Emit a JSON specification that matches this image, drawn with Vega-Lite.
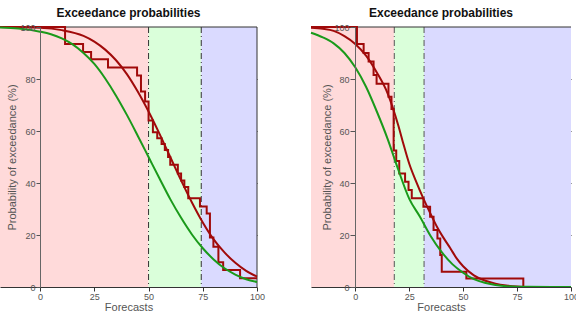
{
  "$schema": "https://vega.github.io/schema/vega-lite/v6.json",
  "padding": {"top": 7, "left": -4, "right": 0, "bottom": 0},
  "bounds": "flush",
  "spacing": 54,
  "config": {
    "view": {"stroke": null},
    "font": "Liberation Sans",
    "title": {"fontSize": 12, "fontWeight": "bold", "color": "#111", "offset": 3, "font": "Liberation Sans"},
    "axis": {"labelFont": "Liberation Sans", "labelFontSize": 9, "labelColor": "#555", "titleFont": "Liberation Sans", "titleFontSize": 11, "titleFontWeight": "normal", "titleColor": "#555", "grid": false, "tickColor": "#555", "domainColor": "#555", "zindex": 1, "minExtent": 0}
  },
  "datasets": {
    "zones": [
      {"panel": "A", "zone": "low", "x0": -18.5, "x1": 50},
      {"panel": "A", "zone": "mid", "x0": 50, "x1": 74.3},
      {"panel": "A", "zone": "high", "x0": 74.3, "x1": 100},
      {"panel": "B", "zone": "low", "x0": -20.5, "x1": 18.1},
      {"panel": "B", "zone": "mid", "x0": 18.1, "x1": 31.9},
      {"panel": "B", "zone": "high", "x0": 31.9, "x1": 100}
    ],
    "cuts": [
      {"panel": "A", "x": 50}, {"panel": "A", "x": 74.3},
      {"panel": "B", "x": 18.1}, {"panel": "B", "x": 31.9}
    ],
    "frame": [
      {"panel": "A", "x0": 0, "x1": 100, "y0": 100, "y1": 100},
      {"panel": "A", "x0": 100, "x1": 100, "y0": 0, "y1": 100},
      {"panel": "B", "x0": 0, "x1": 100, "y0": 100, "y1": 100}
    ],
    "curves": [
      {"panel": "A", "series": "empirical", "x": -18.5, "y": 100},
      {"panel": "A", "series": "empirical", "x": 11.5, "y": 93.5},
      {"panel": "A", "series": "empirical", "x": 19.8, "y": 90.4},
      {"panel": "A", "series": "empirical", "x": 23.5, "y": 87.6},
      {"panel": "A", "series": "empirical", "x": 31.3, "y": 84.4},
      {"panel": "A", "series": "empirical", "x": 44.7, "y": 81.3},
      {"panel": "A", "series": "empirical", "x": 46.5, "y": 75.2},
      {"panel": "A", "series": "empirical", "x": 48.4, "y": 71.3},
      {"panel": "A", "series": "empirical", "x": 50, "y": 64},
      {"panel": "A", "series": "empirical", "x": 52, "y": 59.5},
      {"panel": "A", "series": "empirical", "x": 54, "y": 57.2},
      {"panel": "A", "series": "empirical", "x": 56, "y": 55},
      {"panel": "A", "series": "empirical", "x": 57.5, "y": 52.7},
      {"panel": "A", "series": "empirical", "x": 59, "y": 50},
      {"panel": "A", "series": "empirical", "x": 60, "y": 47},
      {"panel": "A", "series": "empirical", "x": 63.5, "y": 43.7},
      {"panel": "A", "series": "empirical", "x": 65, "y": 41},
      {"panel": "A", "series": "empirical", "x": 66.5, "y": 38.5},
      {"panel": "A", "series": "empirical", "x": 68.3, "y": 34.1},
      {"panel": "A", "series": "empirical", "x": 73.7, "y": 31},
      {"panel": "A", "series": "empirical", "x": 76.8, "y": 28.3},
      {"panel": "A", "series": "empirical", "x": 78.3, "y": 19},
      {"panel": "A", "series": "empirical", "x": 79.9, "y": 15.5},
      {"panel": "A", "series": "empirical", "x": 82.2, "y": 9.5},
      {"panel": "A", "series": "empirical", "x": 84.4, "y": 6.5},
      {"panel": "A", "series": "empirical", "x": 92.2, "y": 3.4},
      {"panel": "A", "series": "empirical", "x": 100, "y": 3.4},
      {"panel": "A", "series": "fitted", "x": -18.5, "y": 100},
      {"panel": "A", "series": "fitted", "x": -10, "y": 99.9},
      {"panel": "A", "series": "fitted", "x": 0, "y": 99.7},
      {"panel": "A", "series": "fitted", "x": 10, "y": 98.8},
      {"panel": "A", "series": "fitted", "x": 20, "y": 96.6},
      {"panel": "A", "series": "fitted", "x": 25, "y": 94.4},
      {"panel": "A", "series": "fitted", "x": 30, "y": 91.3},
      {"panel": "A", "series": "fitted", "x": 35, "y": 87.2},
      {"panel": "A", "series": "fitted", "x": 40, "y": 81.9},
      {"panel": "A", "series": "fitted", "x": 45, "y": 75.2},
      {"panel": "A", "series": "fitted", "x": 50, "y": 67.5},
      {"panel": "A", "series": "fitted", "x": 55, "y": 59},
      {"panel": "A", "series": "fitted", "x": 60, "y": 50},
      {"panel": "A", "series": "fitted", "x": 65, "y": 41},
      {"panel": "A", "series": "fitted", "x": 70, "y": 32.5},
      {"panel": "A", "series": "fitted", "x": 75, "y": 24.8},
      {"panel": "A", "series": "fitted", "x": 80, "y": 18.3},
      {"panel": "A", "series": "fitted", "x": 85, "y": 13.3},
      {"panel": "A", "series": "fitted", "x": 90, "y": 9.3},
      {"panel": "A", "series": "fitted", "x": 95, "y": 6.2},
      {"panel": "A", "series": "fitted", "x": 100, "y": 4},
      {"panel": "A", "series": "reference", "x": -18.5, "y": 99.8},
      {"panel": "A", "series": "reference", "x": -10, "y": 99.4},
      {"panel": "A", "series": "reference", "x": 0, "y": 98.2},
      {"panel": "A", "series": "reference", "x": 5, "y": 97.2},
      {"panel": "A", "series": "reference", "x": 10, "y": 95.6},
      {"panel": "A", "series": "reference", "x": 15, "y": 93.3},
      {"panel": "A", "series": "reference", "x": 20, "y": 90},
      {"panel": "A", "series": "reference", "x": 25, "y": 85.8},
      {"panel": "A", "series": "reference", "x": 30, "y": 80.2},
      {"panel": "A", "series": "reference", "x": 35, "y": 73.6},
      {"panel": "A", "series": "reference", "x": 40, "y": 66.2},
      {"panel": "A", "series": "reference", "x": 45, "y": 58.2},
      {"panel": "A", "series": "reference", "x": 50, "y": 50},
      {"panel": "A", "series": "reference", "x": 55, "y": 41.8},
      {"panel": "A", "series": "reference", "x": 60, "y": 33.8},
      {"panel": "A", "series": "reference", "x": 65, "y": 26.6},
      {"panel": "A", "series": "reference", "x": 70, "y": 20.2},
      {"panel": "A", "series": "reference", "x": 75, "y": 14.9},
      {"panel": "A", "series": "reference", "x": 80, "y": 10.6},
      {"panel": "A", "series": "reference", "x": 85, "y": 7.2},
      {"panel": "A", "series": "reference", "x": 90, "y": 4.8},
      {"panel": "A", "series": "reference", "x": 95, "y": 3},
      {"panel": "A", "series": "reference", "x": 100, "y": 1.9},
      {"panel": "B", "series": "empirical", "x": -20.5, "y": 100},
      {"panel": "B", "series": "empirical", "x": 0.8, "y": 93.5},
      {"panel": "B", "series": "empirical", "x": 3.9, "y": 90},
      {"panel": "B", "series": "empirical", "x": 6.2, "y": 86.7},
      {"panel": "B", "series": "empirical", "x": 8.5, "y": 81.5},
      {"panel": "B", "series": "empirical", "x": 9.9, "y": 78.2},
      {"panel": "B", "series": "empirical", "x": 15.4, "y": 73.2},
      {"panel": "B", "series": "empirical", "x": 16.8, "y": 68.5},
      {"panel": "B", "series": "empirical", "x": 17.8, "y": 52.5},
      {"panel": "B", "series": "empirical", "x": 19, "y": 48.5},
      {"panel": "B", "series": "empirical", "x": 20.4, "y": 43.7},
      {"panel": "B", "series": "empirical", "x": 23.1, "y": 40.5},
      {"panel": "B", "series": "empirical", "x": 24.7, "y": 37.3},
      {"panel": "B", "series": "empirical", "x": 26.2, "y": 34.1},
      {"panel": "B", "series": "empirical", "x": 31.6, "y": 30.9},
      {"panel": "B", "series": "empirical", "x": 34.7, "y": 27},
      {"panel": "B", "series": "empirical", "x": 36.3, "y": 21.9},
      {"panel": "B", "series": "empirical", "x": 38.1, "y": 18.7},
      {"panel": "B", "series": "empirical", "x": 39.4, "y": 12.3},
      {"panel": "B", "series": "empirical", "x": 40.1, "y": 5.9},
      {"panel": "B", "series": "empirical", "x": 51.5, "y": 3.3},
      {"panel": "B", "series": "empirical", "x": 77.9, "y": 0},
      {"panel": "B", "series": "empirical", "x": 100, "y": 0},
      {"panel": "B", "series": "fitted", "x": -20.5, "y": 99.7},
      {"panel": "B", "series": "fitted", "x": -15, "y": 99.3},
      {"panel": "B", "series": "fitted", "x": -10, "y": 98.5},
      {"panel": "B", "series": "fitted", "x": -5, "y": 96.5},
      {"panel": "B", "series": "fitted", "x": 0, "y": 93.5},
      {"panel": "B", "series": "fitted", "x": 5, "y": 89},
      {"panel": "B", "series": "fitted", "x": 10, "y": 82.5},
      {"panel": "B", "series": "fitted", "x": 15, "y": 74.5},
      {"panel": "B", "series": "fitted", "x": 20, "y": 62},
      {"panel": "B", "series": "fitted", "x": 22, "y": 56},
      {"panel": "B", "series": "fitted", "x": 25, "y": 47.5},
      {"panel": "B", "series": "fitted", "x": 28, "y": 41},
      {"panel": "B", "series": "fitted", "x": 31.6, "y": 34},
      {"panel": "B", "series": "fitted", "x": 35, "y": 28},
      {"panel": "B", "series": "fitted", "x": 38, "y": 23},
      {"panel": "B", "series": "fitted", "x": 41, "y": 18.8},
      {"panel": "B", "series": "fitted", "x": 44, "y": 15},
      {"panel": "B", "series": "fitted", "x": 47, "y": 11},
      {"panel": "B", "series": "fitted", "x": 50, "y": 8},
      {"panel": "B", "series": "fitted", "x": 55, "y": 4.5},
      {"panel": "B", "series": "fitted", "x": 60, "y": 2.5},
      {"panel": "B", "series": "fitted", "x": 65, "y": 1.3},
      {"panel": "B", "series": "fitted", "x": 70, "y": 0.6},
      {"panel": "B", "series": "fitted", "x": 75, "y": 0.2},
      {"panel": "B", "series": "fitted", "x": 80, "y": 0},
      {"panel": "B", "series": "fitted", "x": 100, "y": 0},
      {"panel": "B", "series": "reference", "x": -20.5, "y": 97.8},
      {"panel": "B", "series": "reference", "x": -15, "y": 96},
      {"panel": "B", "series": "reference", "x": -10, "y": 93.7},
      {"panel": "B", "series": "reference", "x": -5, "y": 90},
      {"panel": "B", "series": "reference", "x": 0, "y": 84.5},
      {"panel": "B", "series": "reference", "x": 5, "y": 77},
      {"panel": "B", "series": "reference", "x": 10, "y": 67.5},
      {"panel": "B", "series": "reference", "x": 15, "y": 57},
      {"panel": "B", "series": "reference", "x": 20, "y": 45},
      {"panel": "B", "series": "reference", "x": 25, "y": 34},
      {"panel": "B", "series": "reference", "x": 30, "y": 27},
      {"panel": "B", "series": "reference", "x": 35, "y": 19.5},
      {"panel": "B", "series": "reference", "x": 40, "y": 13.5},
      {"panel": "B", "series": "reference", "x": 45, "y": 8.8},
      {"panel": "B", "series": "reference", "x": 50, "y": 5.5},
      {"panel": "B", "series": "reference", "x": 55, "y": 3},
      {"panel": "B", "series": "reference", "x": 60, "y": 1.6},
      {"panel": "B", "series": "reference", "x": 65, "y": 0.8},
      {"panel": "B", "series": "reference", "x": 70, "y": 0.3},
      {"panel": "B", "series": "reference", "x": 80, "y": 0.05},
      {"panel": "B", "series": "reference", "x": 100, "y": 0}
    ]
  },
  "hconcat": [
    {
      "width": 257,
      "height": 260,
      "title": "Exceedance probabilities",
      "resolve": {"axis": {"x": "independent", "y": "independent"}},
      "layer": [
        {
          "data": {"name": "zones"},
          "transform": [{"filter": "datum.panel === 'A'"}],
          "mark": {"type": "rect"},
          "encoding": {
            "x": {"field": "x0", "type": "quantitative", "scale": {"domain": [-18.5, 100], "nice": false, "zero": false}, "axis": null},
            "x2": {"field": "x1"},
            "y": {"datum": 0, "type": "quantitative", "scale": {"domain": [0, 100], "nice": false}, "axis": null},
            "y2": {"datum": 100},
            "color": {"field": "zone", "type": "nominal", "scale": {"domain": ["low", "mid", "high"], "range": ["#FFDADA", "#DAFFDA", "#DADAFF"]}, "legend": null}
          }
        },
        {
          "data": {"name": "cuts"},
          "transform": [{"filter": "datum.panel === 'A'"}],
          "mark": {"type": "rule", "color": "#333", "strokeWidth": 1, "strokeDash": [6, 3, 1, 3]},
          "encoding": {
            "x": {"field": "x", "type": "quantitative", "scale": {"domain": [-18.5, 100], "nice": false, "zero": false}, "axis": null}
          }
        },
        {
          "data": {"name": "frame"},
          "transform": [{"filter": "datum.panel === 'A'"}],
          "mark": {"type": "rule", "color": "#333", "strokeWidth": 1},
          "encoding": {
            "x": {"field": "x0", "type": "quantitative", "scale": {"domain": [-18.5, 100], "nice": false, "zero": false}, "axis": null},
            "x2": {"field": "x1"},
            "y": {"field": "y0", "type": "quantitative", "scale": {"domain": [0, 100], "nice": false}, "axis": null},
            "y2": {"field": "y1"}
          }
        },
        {
          "data": {"name": "curves"},
          "transform": [{"filter": "datum.panel === 'A' && datum.series === 'empirical'"}],
          "mark": {"type": "line", "interpolate": "step-after", "color": "#A00A0A", "strokeWidth": 2},
          "encoding": {
            "x": {"field": "x", "type": "quantitative", "scale": {"domain": [-18.5, 100], "nice": false, "zero": false}, "axis": null},
            "y": {"field": "y", "type": "quantitative", "scale": {"domain": [0, 100], "nice": false},
              "axis": {"orient": "left", "offset": -40, "zindex": 2, "values": [0, 20, 40, 60, 80, 100], "domainColor": "#666", "tickSize": 4, "labelPadding": 1, "title": "Probability of exceedance (%)", "titlePadding": 2}}
          }
        },
        {
          "data": {"name": "curves"},
          "transform": [{"filter": "datum.panel === 'A' && datum.series === 'fitted'"}],
          "mark": {"type": "line", "interpolate": "monotone", "color": "#A00A0A", "strokeWidth": 2},
          "encoding": {
            "x": {"field": "x", "type": "quantitative", "scale": {"domain": [-18.5, 100], "nice": false, "zero": false},
              "axis": {"orient": "top", "offset": -4, "values": [25, 50, 75], "labels": false, "domain": false, "tickSize": 4, "tickColor": "#333", "title": null}},
            "y": {"field": "y", "type": "quantitative", "scale": {"domain": [0, 100], "nice": false},
              "axis": {"orient": "right", "offset": -4, "values": [20, 40, 60, 80], "labels": false, "domain": false, "tickSize": 4, "tickColor": "#333", "title": null}}
          }
        },
        {
          "data": {"name": "curves"},
          "transform": [{"filter": "datum.panel === 'A' && datum.series === 'reference'"}],
          "mark": {"type": "line", "interpolate": "monotone", "color": "#1A9A1A", "strokeWidth": 2},
          "encoding": {
            "x": {"field": "x", "type": "quantitative", "scale": {"domain": [-18.5, 100], "nice": false, "zero": false},
              "axis": {"orient": "bottom", "zindex": 2, "values": [0, 25, 50, 75, 100], "format": "d", "labelFlush": false, "domainColor": "#333", "tickColor": "#333", "tickSize": 4, "labelPadding": 1, "title": "Forecasts", "titlePadding": 0}},
            "y": {"field": "y", "type": "quantitative", "scale": {"domain": [0, 100], "nice": false}, "axis": null}
          }
        }
      ]
    },
    {
      "width": 260,
      "height": 260,
      "title": "Exceedance probabilities",
      "resolve": {"axis": {"x": "independent", "y": "independent"}},
      "layer": [
        {
          "data": {"name": "zones"},
          "transform": [{"filter": "datum.panel === 'B'"}],
          "mark": {"type": "rect"},
          "encoding": {
            "x": {"field": "x0", "type": "quantitative", "scale": {"domain": [-20.5, 100], "nice": false, "zero": false}, "axis": null},
            "x2": {"field": "x1"},
            "y": {"datum": 0, "type": "quantitative", "scale": {"domain": [0, 100], "nice": false}, "axis": null},
            "y2": {"datum": 100},
            "color": {"field": "zone", "type": "nominal", "scale": {"domain": ["low", "mid", "high"], "range": ["#FFDADA", "#DAFFDA", "#DADAFF"]}, "legend": null}
          }
        },
        {
          "data": {"name": "cuts"},
          "transform": [{"filter": "datum.panel === 'B'"}],
          "mark": {"type": "rule", "color": "#555", "strokeWidth": 1, "strokeDash": [6, 3, 1, 3]},
          "encoding": {
            "x": {"field": "x", "type": "quantitative", "scale": {"domain": [-20.5, 100], "nice": false, "zero": false}, "axis": null}
          }
        },
        {
          "data": {"name": "frame"},
          "transform": [{"filter": "datum.panel === 'B'"}],
          "mark": {"type": "rule", "color": "#333", "strokeWidth": 1},
          "encoding": {
            "x": {"field": "x0", "type": "quantitative", "scale": {"domain": [-20.5, 100], "nice": false, "zero": false}, "axis": null},
            "x2": {"field": "x1"},
            "y": {"field": "y0", "type": "quantitative", "scale": {"domain": [0, 100], "nice": false}, "axis": null},
            "y2": {"field": "y1"}
          }
        },
        {
          "data": {"name": "curves"},
          "transform": [{"filter": "datum.panel === 'B' && datum.series === 'empirical'"}],
          "mark": {"type": "line", "interpolate": "step-after", "color": "#A00A0A", "strokeWidth": 2},
          "encoding": {
            "x": {"field": "x", "type": "quantitative", "scale": {"domain": [-20.5, 100], "nice": false, "zero": false}, "axis": null},
            "y": {"field": "y", "type": "quantitative", "scale": {"domain": [0, 100], "nice": false},
              "axis": {"orient": "left", "offset": -44, "zindex": 2, "values": [0, 20, 40, 60, 80, 100], "domainColor": "#666", "tickSize": 5, "labelPadding": 1, "title": "Probability of exceedance (%)", "titlePadding": 1}}
          }
        },
        {
          "data": {"name": "curves"},
          "transform": [{"filter": "datum.panel === 'B' && datum.series === 'fitted'"}],
          "mark": {"type": "line", "interpolate": "monotone", "color": "#A00A0A", "strokeWidth": 2},
          "encoding": {
            "x": {"field": "x", "type": "quantitative", "scale": {"domain": [-20.5, 100], "nice": false, "zero": false},
              "axis": {"orient": "top", "offset": -4, "values": [25, 50, 75], "labels": false, "domain": false, "tickSize": 4, "tickColor": "#333", "title": null}},
            "y": {"field": "y", "type": "quantitative", "scale": {"domain": [0, 100], "nice": false},
              "axis": {"orient": "right", "offset": -4, "values": [20, 40, 60, 80], "labels": false, "domain": false, "tickSize": 4, "tickColor": "#333", "title": null}}
          }
        },
        {
          "data": {"name": "curves"},
          "transform": [{"filter": "datum.panel === 'B' && datum.series === 'reference'"}],
          "mark": {"type": "line", "interpolate": "monotone", "color": "#1A9A1A", "strokeWidth": 2},
          "encoding": {
            "x": {"field": "x", "type": "quantitative", "scale": {"domain": [-20.5, 100], "nice": false, "zero": false},
              "axis": {"orient": "bottom", "zindex": 2, "values": [0, 25, 50, 75, 100], "format": "d", "labelFlush": false, "domainColor": "#333", "tickColor": "#333", "tickSize": 4, "labelPadding": 1, "title": "Forecasts", "titlePadding": 0}},
            "y": {"field": "y", "type": "quantitative", "scale": {"domain": [0, 100], "nice": false}, "axis": null}
          }
        }
      ]
    }
  ]
}
